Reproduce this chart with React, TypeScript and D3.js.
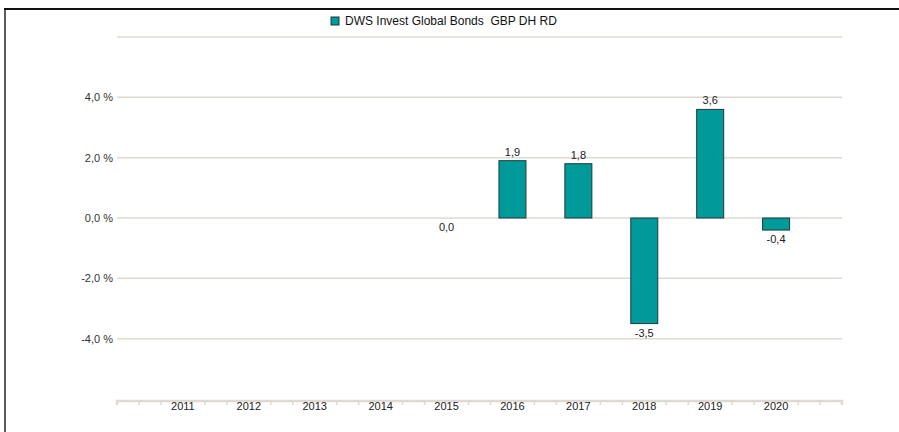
import React from "react";
import * as d3 from "d3";

const years = [2011, 2012, 2013, 2014, 2015, 2016, 2017, 2018, 2019, 2020];
const values: (number | null)[] = [null, null, null, null, 0.0, 1.9, 1.8, -3.5, 3.6, -0.4];
const yTicks = [-4, -2, 0, 2, 4, 6];
const seriesName = "DWS Invest Global Bonds  GBP DH RD";

const W = 899;
const H = 432;
const FONT = "'Liberation Sans', Arial, sans-serif";
const TEAL = "#009a9a";
const STROKE = "#1d3a3a";
const GRID = "#dedad2";

export default function App() {
  const x = d3.scaleLinear().domain([2010, 2021]).range([117, 842]);
  const y = d3.scaleLinear().domain([-6, 6]).range([399, 37]);
  const barW = 27;
  const fmt = (v: number) => d3.format(".1f")(v).replace(".", ",").replace("\u2212", "-");
  const minorTicks = d3.range(0, 34).map((i) => 2010 + i / 3).filter((_, i) => i % 3 !== 0 || i === 0 || i === 33);

  return (
    <svg width={W} height={H} style={{ position: "absolute", left: 0, top: 0, background: "#fff" }} fontFamily={FONT}>
      <line x1={4} x2={W} y1={9} y2={9} stroke="#111" strokeWidth={2} />
      <line x1={5} x2={5} y1={9} y2={H} stroke="#222" strokeWidth={1.5} />
      <rect x={331} y={17} width={8} height={8} fill={TEAL} stroke={STROKE} strokeWidth={1} />
      <text x={345} y={25} fontSize={12} fill="#111" style={{ whiteSpace: "pre" }}>{seriesName}</text>
      {yTicks.map((t) => (
        <g key={t}>
          <line x1={x(2010)} x2={x(2021)} y1={y(t)} y2={y(t)} stroke={GRID} strokeWidth={1.5} />
          {t !== 6 && (
            <text x={113} y={y(t)} dy="0.35em" textAnchor="end" fontSize={11} fill="#333">
              {fmt(t) + " %"}
            </text>
          )}
        </g>
      ))}
      <path d={`M${x(2010)},405 V401 H${x(2021)} V405`} fill="none" stroke={GRID} strokeWidth={2.5} />
      {minorTicks.map((t, i) => (
        <line key={i} x1={x(t)} x2={x(t)} y1={401} y2={405} stroke={GRID} strokeWidth={1.5} />
      ))}
      {years.map((yr) => (
        <text key={yr} x={x(yr)} y={410} textAnchor="middle" fontSize={11} fill="#222">
          {yr}
        </text>
      ))}
      {years.map((yr, i) => {
        const v = values[i];
        if (v === null) return null;
        const y0 = y(0);
        const y1 = y(v);
        const top = Math.min(y0, y1);
        const h = Math.abs(y1 - y0);
        return (
          <g key={yr}>
            {h > 0 && (
              <rect x={x(yr) - barW / 2} y={top} width={barW} height={h} fill={TEAL} stroke={STROKE} strokeWidth={1} />
            )}
            <text
              x={x(yr)}
              y={v > 0 ? y1 - 5 : Math.max(y0, y1) + 13}
              textAnchor="middle"
              fontSize={11}
              fill="#222"
            >
              {fmt(v)}
            </text>
          </g>
        );
      })}
    </svg>
  );
}
